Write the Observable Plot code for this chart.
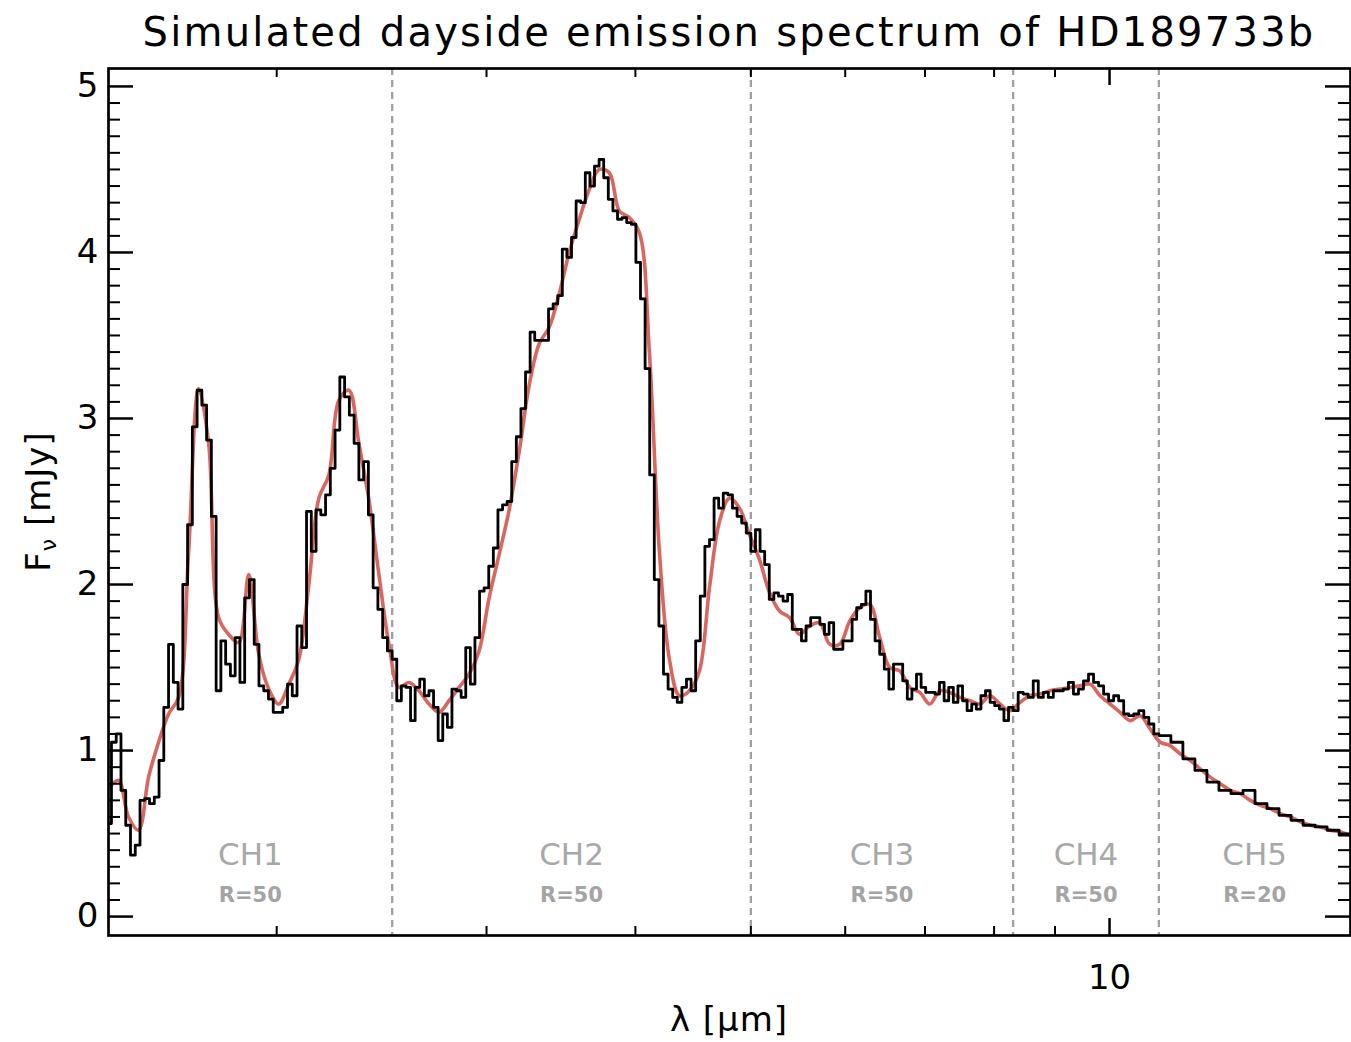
<!DOCTYPE html>
<html><head><meta charset="utf-8">
<script src="https://cdn.jsdelivr.net/npm/d3@7"></script>
<script src="https://cdn.jsdelivr.net/npm/@observablehq/plot@0.6"></script>
<style>
body{margin:0;background:#fff;}
#wrap{width:1351px;height:1042px;position:relative;overflow:hidden;background:#fff;}
#title{position:absolute;left:108px;top:2px;width:1242px;height:60px;text-align:center;font-family:"DejaVu Sans";font-size:40px;line-height:60px;white-space:nowrap;color:#000;}
#chart{position:absolute;left:0;top:60px;}
</style></head><body>
<div id="wrap"><div id="title"><span id="tt">Simulated dayside emission spectrum of HD189733b</span></div><div id="chart"></div></div>
<script>
// ---- data ----
const channelNames = ["CH1", "CH2", "CH3", "CH4", "CH5"];
const channelRes = ["R=50", "R=50", "R=50", "R=50", "R=20"];
const channelEdges = [1.44, 2.5, 5.0, 8.3, 11.0, 15.95]; // µm
const fluxCH1 = [0.56,1.05,1.10,0.76,0.55,0.37,0.43,0.70,0.71,0.68,0.72,0.94,1.26,1.64,1.41,1.25,2.00,2.36,2.95,3.17,3.08,2.87,2.41,1.36,1.66,1.52,1.45,1.68,1.41,1.92,2.03,1.64,1.39,1.36,1.31,1.23,1.23,1.26,1.40,1.33,1.75,1.62,2.44,2.20,2.45,2.42,2.54,2.70,2.93,3.25,3.13,3.02,2.85,2.63,2.74,2.42,1.98,1.85,1.68,1.60];
const fluxCH2 = [1.55,1.30,1.39,1.38,1.18,1.38,1.43,1.33,1.36,1.26,1.06,1.22,1.14,1.37,1.36,1.32,1.62,1.40,1.68,1.96,1.98,2.11,2.22,2.45,2.48,2.50,2.74,2.89,3.06,3.28,3.52,3.47,3.47,3.47,3.66,3.69,3.74,4.02,3.97,4.09,4.31,4.30,4.48,4.40,4.52,4.56,4.45,4.32,4.25,4.20,4.21,4.18,4.17,3.94,3.72,3.30,2.66,2.03,1.75,1.46,1.37,1.32,1.29,1.38,1.43,1.36,1.66,1.93,2.23,2.27,2.52,2.46,2.55,2.54,2.46,2.41,2.37,2.31];
const fluxCH3 = [2.20,2.33,2.20,2.12,1.91,1.95,1.93,1.90,1.94,1.73,1.73,1.66,1.75,1.80,1.80,1.76,1.70,1.77,1.61,1.61,1.66,1.66,1.79,1.86,1.88,1.96,1.79,1.66,1.58,1.49,1.37,1.52,1.52,1.42,1.31,1.37,1.46,1.38,1.35,1.35,1.34,1.41,1.30,1.38,1.29,1.39,1.30,1.24,1.28,1.25,1.33,1.36,1.29,1.27,1.25,1.18,1.26];
const fluxCH4 = [1.24,1.35,1.34,1.32,1.42,1.32,1.35,1.32,1.36,1.36,1.37,1.41,1.34,1.37,1.42,1.46,1.41,1.39,1.34,1.30,1.33,1.30,1.22,1.21,1.22,1.24,1.20,1.16,1.10];
const fluxCH5 = [1.09,1.05,0.95,0.88,0.81,0.76,0.74,0.76,0.68,0.65,0.61,0.58,0.55,0.54,0.52,0.49];
// smooth model spectrum, sampled log-uniformly across the plotted wavelength range
const modelRange = [1.445, 15.93];
const modelFlux = [0.77,0.82,0.60,0.52,0.84,1.05,1.22,1.32,2.20,3.18,2.85,1.80,1.70,1.65,2.06,1.58,1.37,1.28,1.40,1.55,2.00,2.52,2.66,3.11,3.17,2.85,2.51,2.06,1.64,1.38,1.41,1.36,1.28,1.23,1.30,1.38,1.46,1.60,1.92,2.18,2.45,2.80,3.20,3.45,3.55,3.75,4.00,4.20,4.38,4.50,4.48,4.25,4.21,4.12,3.40,2.20,1.55,1.33,1.36,1.48,1.98,2.38,2.52,2.46,2.30,2.15,1.95,1.84,1.80,1.70,1.75,1.77,1.64,1.64,1.78,1.86,1.88,1.68,1.50,1.48,1.38,1.35,1.28,1.36,1.35,1.32,1.30,1.28,1.33,1.28,1.24,1.29,1.33,1.34,1.36,1.37,1.38,1.39,1.40,1.33,1.28,1.23,1.18,1.21,1.13,1.05,1.03,0.98,0.94,0.89,0.84,0.80,0.76,0.74,0.70,0.67,0.65,0.62,0.60,0.57,0.55,0.54,0.52,0.51,0.49];
const yTickValues = [0, 1, 2, 3, 4, 5];
const xMinorTicks = [2, 3, 4, 5, 6, 7, 8, 9];
const xMajorTicks = [10];
const xDomain = [1.445, 15.93];
const yDomain = [-0.114, 5.108];

// ---- build tables ----
const channelFlux = [fluxCH1, fluxCH2, fluxCH3, fluxCH4, fluxCH5];
const steps = [];
channelFlux.forEach((vals, c) => {
  const a = channelEdges[c], b = channelEdges[c + 1], n = vals.length;
  vals.forEach((v, i) => steps.push({lam: a * Math.pow(b / a, i / n), flux: v}));
});
steps.push({lam: channelEdges[channelEdges.length - 1], flux: fluxCH5[fluxCH5.length - 1]});
const model = modelFlux.map((v, i) => ({
  lam: modelRange[0] * Math.pow(modelRange[1] / modelRange[0], i / (modelFlux.length - 1)),
  flux: v
}));
const channels = channelNames.map((name, i) => ({name, res: channelRes[i], lo: Math.max(channelEdges[i], xDomain[0]), hi: Math.min(channelEdges[i + 1], xDomain[1])}));
const yMinorTicks = d3.range(1, 51).map(i => i / 10).filter(v => Math.abs(v - Math.round(v)) > 1e-6);

// ---- plot ----
const W = 1351, H = 982, mL = 108, mR = 1, mT = 8, mB = 107;
const fw = W - mL - mR, fh = H - mT - mB;
const chart = Plot.plot({
  width: W, height: H, marginLeft: mL, marginRight: mR, marginTop: mT, marginBottom: mB,
  style: {fontFamily: "DejaVu Sans", background: "white", color: "black"},
  x: {type: "log", domain: xDomain},
  y: {domain: yDomain},
  marks: [
    Plot.ruleX(channelEdges.slice(1, 5), {stroke: "#a0a0a0", strokeWidth: 2.3, strokeDasharray: "7,5"}),
    Plot.line(model, {x: "lam", y: "flux", curve: "catmull-rom", stroke: "#d9675f", strokeWidth: 3.6, clip: true}),
    Plot.line(steps, {x: "lam", y: "flux", curve: "step-after", stroke: "black", strokeWidth: 2.8, clip: true}),
    Plot.text(channels, {x: d => Math.sqrt(d.lo * d.hi), text: "name", frameAnchor: "bottom", dy: -71, fill: "#a8a8a8", fontSize: 31}),
    Plot.text(channels, {x: d => Math.sqrt(d.lo * d.hi), text: "res", frameAnchor: "bottom", dy: -34, fill: "#a4a4a4", fontSize: 21, letterSpacing: 3, fontWeight: "bold"}),
    Plot.tickY(yTickValues, {y: d => d, insetRight: fw - 25, stroke: "black", strokeWidth: 2.5}),
    Plot.tickY(yTickValues, {y: d => d, insetLeft: fw - 25, stroke: "black", strokeWidth: 2.5}),
    Plot.tickY(yMinorTicks, {y: d => d, insetRight: fw - 12, stroke: "black", strokeWidth: 2}),
    Plot.tickY(yMinorTicks, {y: d => d, insetLeft: fw - 12, stroke: "black", strokeWidth: 2}),
    Plot.tickX(xMinorTicks, {x: d => d, insetTop: fh - 9, stroke: "black", strokeWidth: 2}),
    Plot.tickX(xMinorTicks, {x: d => d, insetBottom: fh - 9, stroke: "black", strokeWidth: 2}),
    Plot.tickX(xMajorTicks, {x: d => d, insetTop: fh - 17, stroke: "black", strokeWidth: 2.5}),
    Plot.tickX(xMajorTicks, {x: d => d, insetBottom: fh - 17, stroke: "black", strokeWidth: 2.5}),
    Plot.axisY({ticks: yTickValues, tickSize: 0, tickPadding: 10, fontSize: 34, label: null, tickFormat: d => String(d)}),
    Plot.axisX({ticks: xMajorTicks, tickSize: 0, tickPadding: 29, fontSize: 34, label: null, tickFormat: d => String(d)}),
    Plot.frame({stroke: "black", strokeWidth: 2.7})
  ]
});
document.getElementById("chart").appendChild(chart);

// axis titles
const svg = d3.select(chart);
svg.append("text").attr("x", mL + fw / 2).attr("y", 971).attr("text-anchor", "middle")
  .attr("font-family", "DejaVu Sans").attr("font-size", 34).attr("letter-spacing", 1).attr("fill", "black").text("λ [μm]");
const yl = svg.append("text").attr("transform", `translate(50,${mT + fh / 2}) rotate(-90)`)
  .attr("text-anchor", "middle").attr("font-family", "DejaVu Sans").attr("font-size", 34).attr("letter-spacing", 1).attr("fill", "black");
yl.append("tspan").text("F");
yl.append("tspan").attr("font-size", 22).attr("dy", 6).text("ν");
yl.append("tspan").attr("dy", -6).text(" [mJy]");

// fit the title to the reference width
const tt = document.getElementById("tt");
const w0 = tt.getBoundingClientRect().width;
tt.style.letterSpacing = ((1173 - w0) / tt.textContent.length) + "px";
</script>
</body></html>
